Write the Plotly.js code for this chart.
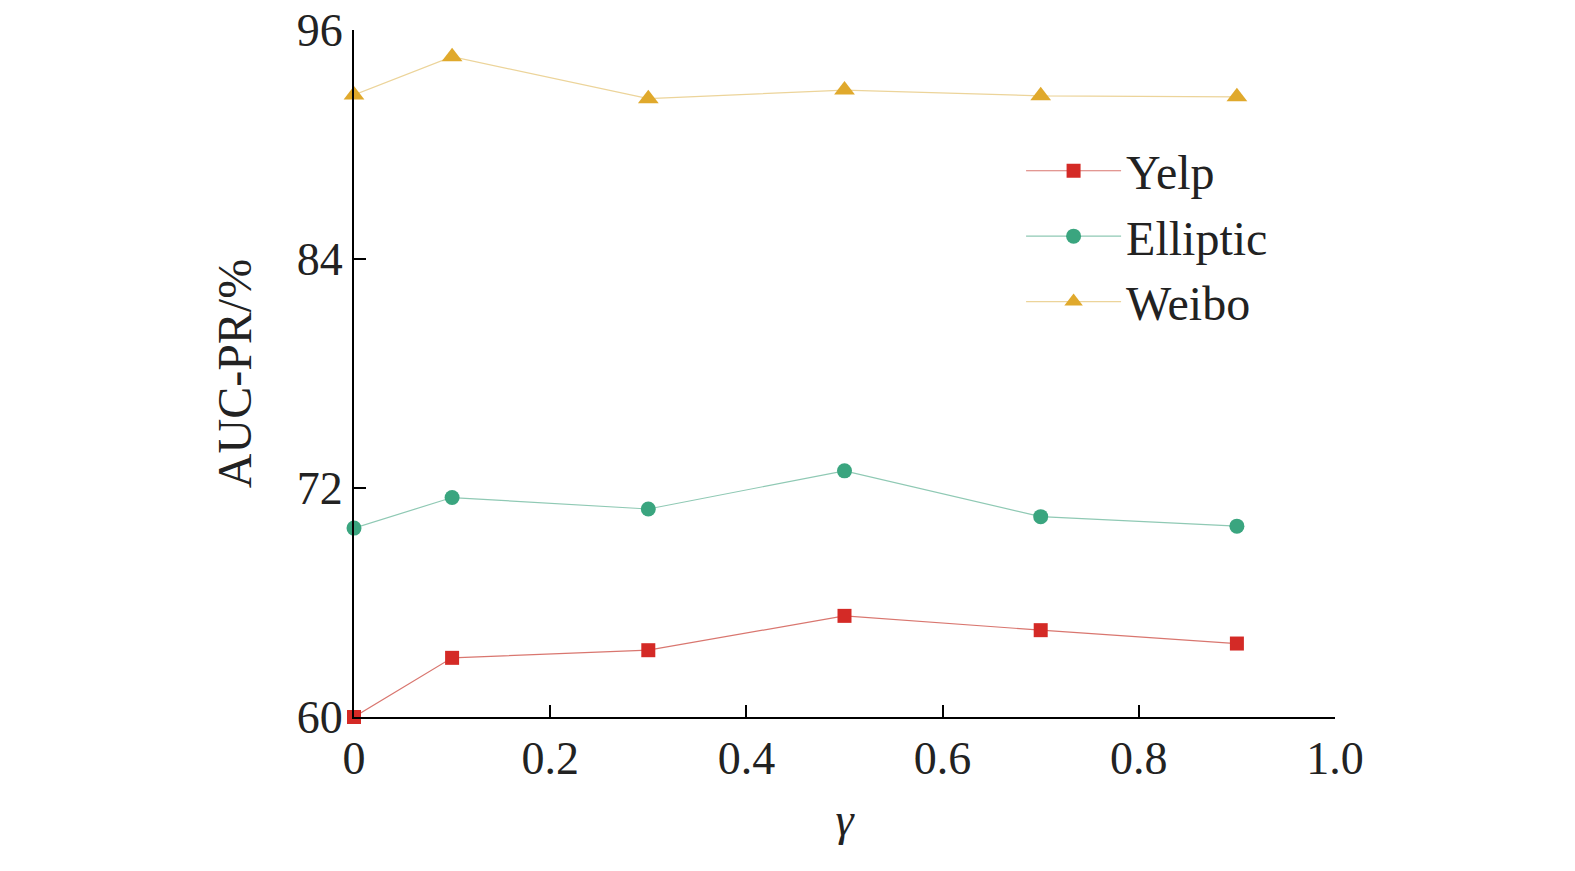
<!DOCTYPE html>
<html>
<head>
<script src="https://cdn.plot.ly/plotly-3.0.1.min.js"></script>
</head>
<body style="margin:0">
<div id="chart" style="width:1575px;height:871px"></div>
<script>
var gammas = [0, 0.1, 0.3, 0.5, 0.7, 0.9];
var yelp = [60.0, 63.1, 63.5, 65.3, 64.55, 63.85];
var elliptic = [69.9, 71.5, 70.9, 72.9, 70.5, 70.0];
var weibo = [92.6, 94.6, 92.4, 92.85, 92.55, 92.5];

var yelpTrace = {
  x: gammas, y: yelp, name: 'Yelp', mode: 'lines+markers', cliponaxis: false,
  line: {color: '#d9766f', width: 1.2},
  marker: {symbol: 'square', size: 14, color: '#d42a26'}
};
var ellipticTrace = {
  x: gammas, y: elliptic, name: 'Elliptic', mode: 'lines+markers', cliponaxis: false,
  line: {color: '#8fc9b4', width: 1.2},
  marker: {symbol: 'circle', size: 15, color: '#3aa57f'}
};
var weiboTrace = {
  x: gammas, y: weibo, name: 'Weibo', mode: 'lines+markers', cliponaxis: false,
  line: {color: '#ecd49a', width: 1.2},
  marker: {symbol: 'triangle-up', size: 18, color: '#e0a92c'}
};

var data = [yelpTrace, ellipticTrace, weiboTrace];

var layout = {
  width: 1575, height: 871,
  margin: {l: 354, r: 240, t: 30, b: 154},
  font: {family: 'Liberation Serif', size: 46, color: '#222'},
  paper_bgcolor: 'white', plot_bgcolor: 'white',
  showlegend: true,
  legend: {x: 0.68, y: 0.85, xanchor: 'left', yanchor: 'top', font: {size: 48}, itemwidth: 95, tracegroupgap: 0, bgcolor: 'rgba(0,0,0,0)'},
  xaxis: {
    range: [0, 1.0], tickvals: [0, 0.2, 0.4, 0.6, 0.8, 1.0],
    ticktext: ['0', '0.2', '0.4', '0.6', '0.8', '1.0'],
    showgrid: false, zeroline: false, showline: true, linecolor: '#000', linewidth: 2,
    ticks: 'inside', ticklen: 12, tickwidth: 2, tickcolor: '#000',
    title: {text: '<i>γ</i>', font: {size: 46}, standoff: 20}
  },
  yaxis: {
    range: [60, 96], tickvals: [60, 72, 84, 96],
    showgrid: false, zeroline: false, showline: true, linecolor: '#000', linewidth: 2,
    ticks: 'inside', ticklen: 12, tickwidth: 2, tickcolor: '#000',
    title: {text: 'AUC-PR/%', font: {size: 48}, standoff: 30}
  }
};

Plotly.newPlot('chart', data, layout, {displayModeBar: false});
</script>
</body>
</html>
